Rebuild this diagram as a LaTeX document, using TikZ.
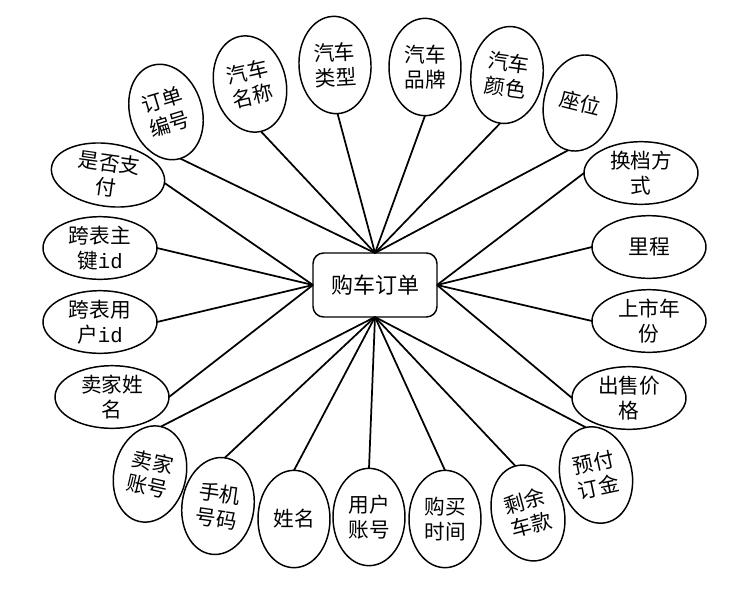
\documentclass[tikz,border=0pt]{standalone}
\usepackage{fontspec}
\setmainfont{Noto Sans CJK SC}
\newfontfamily\latinmono{Liberation Mono}
\usetikzlibrary{shapes.geometric}
\newcommand{\idtxt}{{\latinmono id}}
\begin{document}
\begin{tikzpicture}[x=0.75pt,y=-0.75pt,
  attr/.style={ellipse,draw,line width=1.1pt,inner sep=0pt,outer sep=0pt,align=center,
    font={\fontsize{15.5}{18.5}\selectfont}},
  vattr/.style={attr,minimum width=54pt,minimum height=73pt},
  hattr/.style={attr,minimum width=85.5pt,minimum height=47pt},
  hubbox/.style={draw,line width=1.1pt,rounded corners=8pt,minimum width=93pt,minimum height=48pt,
    inner sep=0pt,outer sep=0pt,font={\fontsize{16.5}{20}\selectfont}},
  link/.style={line width=1.3pt}]
\useasboundingbox (0,0) rectangle (744,590);

\node[hubbox] (hub) at (375,285) {购车订单};

% top
\node[vattr,rotate=17]  (o1) at (166,112) {订单\\编号};
\node[vattr,rotate=13]  (o2) at (250,84)  {汽车\\名称};
\node[vattr,rotate=3]   (o3) at (335,65)  {汽车\\类型};
\node[vattr,rotate=0]   (o4) at (425,67)  {汽车\\品牌};
\node[vattr,rotate=-8]  (o5) at (507,75)  {汽车\\颜色};
\node[vattr,rotate=-14] (o6) at (580,103) {座位};
% right
\node[hattr] (o7)  at (641,173) {换档方\\式};
\node[hattr] (o8)  at (649,247) {里程};
\node[hattr] (o9)  at (649,321) {上市年\\份};
\node[hattr] (o10) at (629,398) {出售价\\格};
% bottom
\node[vattr,rotate=12]  (o11) at (596,475) {预付\\订金};
\node[vattr,rotate=15]  (o12) at (528,513) {剩余\\车款};
\node[vattr]            (o13) at (445,519) {购买\\时间};
\node[vattr]            (o14) at (369,517) {用户\\账号};
\node[vattr]            (o15) at (294,519) {姓名};
\node[vattr,rotate=-8]  (o16) at (218,506) {手机\\号码};
\node[vattr,rotate=-13] (o17) at (150,474) {卖家\\账号};
% left
\node[hattr] (o18) at (112,397) {卖家姓\\名};
\node[hattr] (o19) at (100,322) {跨表用\\户\idtxt};
\node[hattr] (o20) at (100,248) {跨表主\\键\idtxt};
\node[hattr,rotate=-8] (o21) at (108,175) {是否支\\付};

\foreach \n in {o1,o2,o3,o4,o5,o6} \draw[link] (\n.south) -- (hub.north);
\foreach \n in {o7,o8,o9,o10} \draw[link] (\n.west) -- (hub.east);
\foreach \n in {o11,o12,o13,o14,o15,o16,o17} \draw[link] (\n.north) -- (hub.south);
\foreach \n in {o18,o19,o20,o21} \draw[link] (\n.east) -- (hub.west);
\end{tikzpicture}
\end{document}
